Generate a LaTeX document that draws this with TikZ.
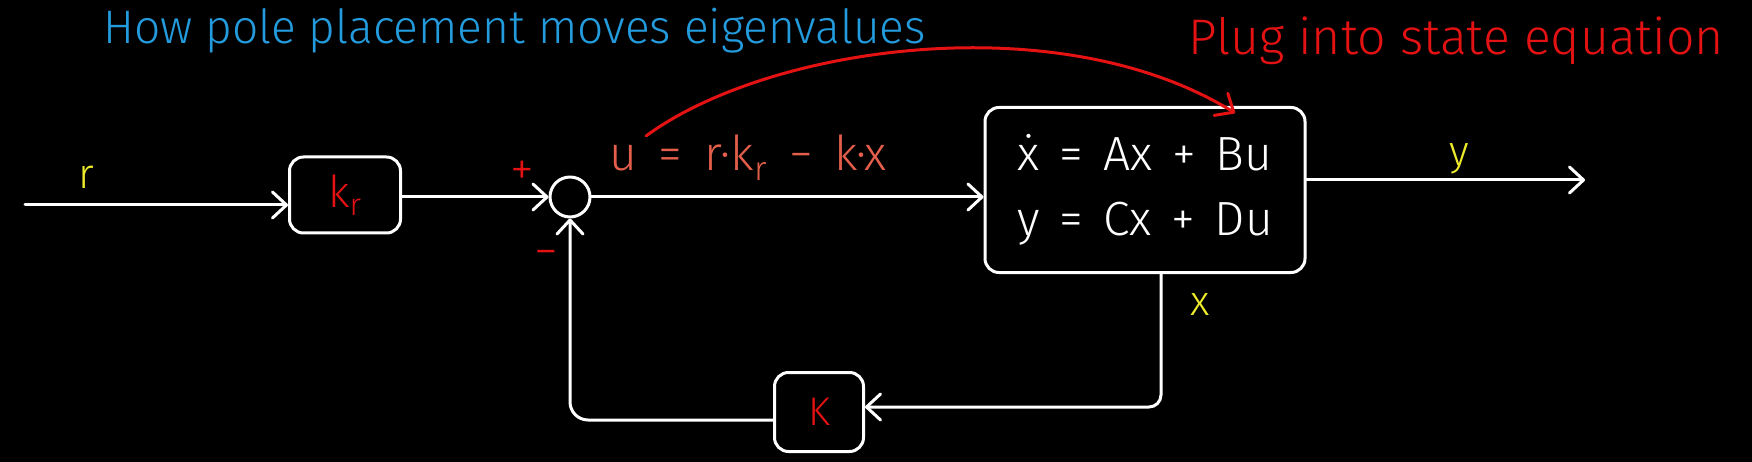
\documentclass[tikz,border=0pt]{standalone}
\usepackage{fontspec}
\setmainfont{Fira Sans}[UprightFont=* Light]
\usetikzlibrary{arrows.meta}
\definecolor{tblue}{RGB}{35,155,220}
\definecolor{tred}{RGB}{228,18,18}
\definecolor{tsalmon}{RGB}{228,95,75}
\definecolor{tyellow}{RGB}{238,235,45}
\newcommand{\eqgap}{\hspace{20pt}}
\newcommand{\ugap}{\hspace{22pt}}
\begin{document}
\begin{tikzpicture}[x=1pt,y=-1pt,
  line cap=round, line join=round,
  blk/.style={draw=white,line width=3pt,rounded corners=14pt,fill=black,inner sep=0pt},
  wire/.style={draw=white,line width=3pt,-{Straight Barb[length=14pt,width=26pt,line width=3pt,round]}},
  plugarrow/.style={draw=tred,line width=3pt,-{Straight Barb[length=15pt,width=26pt,line width=3pt,round]}},
  lbl/.style={inner sep=0pt,font=\fontsize{42}{46}\selectfont},
  sign/.style={inner sep=0pt,text=tred,font=\fontsize{48}{52}\selectfont},
]
\fill[black] (0,0) rectangle (1752,462);
\useasboundingbox (0,0) rectangle (1752,462);

% titles
\node[inner sep=0pt,anchor=base west,text=tblue,font=\fontsize{47}{50}\selectfont\addfontfeatures{FakeStretch=0.98}] (title) at (103,44) {How pole placement moves eigenvalues};
\node[inner sep=0pt,anchor=base west,text=tred,font=\fontsize{50}{54}\selectfont] (plug) at (1188,55) {Plug into state equation};

% blocks
\node[blk,minimum width=111pt,minimum height=76pt,text=tred,font=\fontsize{44}{46}\selectfont] (kr) at (345,195) {k\textsubscript{r}};
\node[circle,draw=white,line width=3pt,minimum size=40pt,inner sep=0pt] (sum) at (570,197) {};
\node[blk,minimum width=320pt,minimum height=165pt,text=white,align=center,font=\fontsize{48}{65}\selectfont] (state) at (1145,190) {\raisebox{4pt}{\.{x}\eqgap=\eqgap Ax\eqgap+\eqgap Bu}\\ \raisebox{4pt}{y\eqgap=\eqgap Cx\eqgap+\eqgap Du}};
\node[blk,minimum width=89pt,minimum height=79pt,text=tred,font=\fontsize{40}{44}\selectfont] (K) at (819,412) {K};

% coordinates
\coordinate (rin) at (25,205);
\coordinate (yout) at (1585,180);
\coordinate (fbR) at (1161,407);
\coordinate (fbL) at (570,420);
\coordinate (plugstart) at (646,136);
\coordinate (plugtip) at (1235,113);

% wires
\draw[wire] (rin) -- (rin -| kr.west);
\draw[wire] (kr.east |- sum.west) -- (sum.west);
\draw[wire] (sum.east) -- (sum.east -| state.west);
\draw[wire] (state.east |- yout) -- (yout);
\draw[wire,rounded corners=12pt] (state.south -| fbR) -- (fbR) -- (K.east |- fbR);
\draw[wire,rounded corners=18pt] (K.west |- fbL) -- (sum |- fbL) -- (sum.south);

% plug arrow
\draw[plugarrow] (plugstart) .. controls (770,45) and (1060,5) .. (plugtip);

% labels
\node[lbl,text=tyellow] (rlbl) at (86,177) {r};
\node[lbl,text=tyellow] (ylbl) at (1459,159) {y};
\node[lbl,text=tyellow] (xlbl) at (1200,305) {x};
\node[sign] (plus) at (522,173) {+};
\node[sign] (minus) at (546,259) {−};
\node[inner sep=0pt,anchor=base west,text=tsalmon,font=\fontsize{48}{52}\selectfont] (ulbl) at (609,171) {u\ugap=\ugap r·k\textsubscript{r}\ugap−\ugap k·x};
\end{tikzpicture}
\end{document}
